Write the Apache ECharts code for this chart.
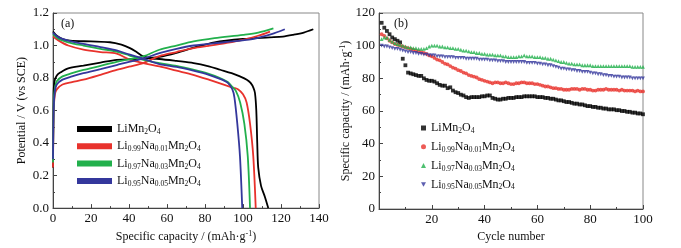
<!DOCTYPE html>
<html><head><meta charset="utf-8">
<script src="https://cdn.jsdelivr.net/npm/echarts@6/dist/echarts.min.js"></script>
<style>html,body{margin:0;padding:0;background:#fff}#c{width:681px;height:248px}</style>
</head><body><div id="c"></div>
<script>
// ---------- Panel (a): charge / discharge curves [capacity, potential] ----------
const blackCharge = [[0,0.25],[0.3,0.7],[0.8,0.78],[2,0.815],[4,0.835],[8,0.86],[16,0.876],[25,0.895],[33.5,0.912],[47.5,0.92],[56,0.93],[65,0.955],[75,0.99],[85,1.02],[100,1.04],[114,1.05],[121,1.055],[126.5,1.066],[132,1.08],[137,1.1]];
const blackDischarge = [[0,1.086],[2,1.06],[5,1.04],[9,1.03],[20,1.025],[30,1.02],[36,1.005],[40.5,0.984],[44,0.96],[47.5,0.933],[52,0.92],[56,0.917],[65,0.905],[74,0.892],[82,0.872],[88,0.851],[94,0.83],[98.4,0.81],[102,0.79],[104,0.77],[105.5,0.74],[106.3,0.708],[107,0.6],[107.5,0.4],[108,0.25],[109.5,0.137],[111.5,0.07],[113.3,0]];
const redCharge = [[0,0.25],[0.4,0.6],[1,0.7],[2,0.73],[5,0.76],[10,0.775],[16,0.79],[25,0.82],[33.5,0.85],[40,0.87],[47.5,0.892],[56,0.935],[65,0.96],[74,0.984],[82,0.998],[91,1.015],[100,1.035],[108,1.06],[114.2,1.086]];
const redDischarge = [[0,1.055],[3,1.03],[8,1.0],[16,0.975],[25,0.96],[33.5,0.95],[40,0.915],[47.5,0.892],[56,0.871],[65,0.845],[73.8,0.82],[82,0.79],[91.4,0.753],[95,0.74],[97.5,0.73],[100,0.7],[101.9,0.65],[103.7,0.52],[105.4,0.32],[106.7,0]];
const greenCharge = [[0,0.28],[0.4,0.65],[1,0.74],[2,0.78],[5,0.81],[10,0.83],[16,0.85],[25,0.875],[33.5,0.9],[40,0.915],[47.5,0.933],[56,0.974],[65,1.0],[74,1.025],[85,1.045],[100,1.066],[108,1.08],[116,1.106]];
const greenDischarge = [[0,1.07],[3,1.04],[8,1.02],[16,1.0],[25,0.98],[33.5,0.963],[40,0.94],[47.5,0.912],[56,0.892],[65,0.875],[73.8,0.851],[82,0.825],[87.9,0.8],[92,0.775],[94.1,0.749],[96.3,0.72],[98.5,0.65],[100.7,0.52],[102.5,0.32],[103.7,0]];
const blueCharge = [[0,0.3],[0.4,0.62],[1,0.72],[2,0.76],[5,0.79],[10,0.81],[16,0.83],[25,0.855],[33.5,0.88],[40,0.9],[47.5,0.92],[56,0.953],[65,0.98],[74,1.0],[90,1.02],[105,1.04],[115,1.07],[122,1.1]];
const blueDischarge = [[0,1.08],[3,1.05],[8,1.03],[16,1.01],[25,0.99],[33.5,0.97],[40,0.945],[47.5,0.92],[56,0.886],[65,0.868],[73.8,0.845],[82,0.82],[87.9,0.795],[92,0.77],[94.4,0.73],[95.5,0.68],[97,0.52],[98.4,0.32],[99.6,0]];

// ---------- Panel (b): capacity vs cycle number (cycles 1..100) ----------
const cycles = Array.from({length:100},(_,i)=>i+1);
const blackCycle = [114,111,109,107,105,104,103,102,92,88,83.5,83,82.5,82,81.5,81.5,80,79,78.5,78.5,78,77,76,75.5,75.5,74,74.5,72.5,71.5,71,70,69.5,68.5,68,68.5,68.5,68.5,68.5,69,69,69.5,69.5,68,67.5,67,67,67.5,67.5,68,68,68,68.5,68.5,68.5,69,69,69,69,69,68.5,68.5,68.5,68,68,67.5,67.5,67,66.5,66.5,66,65.5,65.5,65,64.5,64.5,64,64,63.5,63,63,62.5,62.5,62,62,61.5,61.5,61,61,61,60.5,60.5,60,60,59.5,59.5,59,59,58.5,58.5,58];
const redCycle = [107,106,104.5,103,102,101,100.5,100,99.5,99,98.5,98,97.5,97,96.5,96,95.5,95,94,93.5,92.5,91.5,91,90,89,88.5,87.5,86.5,86,85,84.5,83.5,83,82,81.5,81,80.5,79.5,79,78.5,78,77.5,77,77.5,77.5,77,77,77.5,77,76.5,76.5,77,77,77.5,77.5,77,77,77,76.5,76.5,76,75.5,75,75,74.5,74,74,73.5,73.5,73,73,73,73.5,73.5,73.5,73,73.5,73.5,73,73,72.5,72.5,73,73,73,73.5,73,73,73,73,72.5,73,72.5,72.5,72.5,72.5,72,72.5,72,72];
const greenCycle = [104,105,105,103.5,102.5,101.5,101,100.5,100,99.5,99,99,98.5,98.5,98,98,98,98.5,99.5,100,100,100,99.5,99.5,99,99,98.5,98.5,98,98,97.5,97,97,96.5,96,96,95.5,95.5,95,95,94.5,94.5,94.5,94,94,94,93.5,93.5,93,93,93,93,93.5,93.5,94,93.5,93.5,93.5,93,93,93,92.5,92.5,92,92,91.5,91,90.5,90,90,89.5,89,89,88.5,88.5,88.5,88,88,88,88,87.5,87.5,87.5,87.5,87.5,87.5,87.5,87.5,87.5,87.5,87.5,87.5,87.5,87.5,87.5,87,87,87,87,87];
const blueCycle = [100,99.5,99.5,99,98.5,98,98,97.5,97,96.5,96,96,95.5,95.5,95,95,94.5,94.5,94,94,94,93.5,93.5,93.5,93,93,93,93,92.5,92.5,92.5,92.5,92,92,92,92,92,91.5,91.5,91.5,91.5,91,91,91,90.5,90.5,90.5,90,90,90,90,90,90,90,90,89.5,89.5,89.5,89.5,89,89,88.5,88.5,88,88,87.5,87,86.5,86,86,85.5,85.5,85,85,84.5,84.5,84,84,84,83.5,83,83,82.5,82.5,82,82,81.5,81.5,81,81,81,80.5,80.5,80.5,80.5,80,80,80,80,80];

// ---------- Labels ----------
const names = ['LiMn2O4','Li0.99Na0.01Mn2O4','Li0.97Na0.03Mn2O4','Li0.95Na0.05Mn2O4'];
const richNames = {
  'LiMn2O4':'LiMn{s|2}O{s|4}',
  'Li0.99Na0.01Mn2O4':'Li{s|0.99}Na{s|0.01}Mn{s|2}O{s|4}',
  'Li0.97Na0.03Mn2O4':'Li{s|0.97}Na{s|0.03}Mn{s|2}O{s|4}',
  'Li0.95Na0.05Mn2O4':'Li{s|0.95}Na{s|0.05}Mn{s|2}O{s|4}'
};
const colors = ['#000000','#e8322c','#22b04c','#34379c'];
const ticksA_x = {min:0,max:140,interval:20};
const ticksA_y = {min:0,max:1.2,interval:0.2};
const ticksB_x = {min:0,max:100,interval:20};
const ticksB_y = {min:0,max:120,interval:20};

const FONT = 'Liberation Serif';
const rich = {
  s:{fontSize:7.5,fontFamily:FONT,color:'#111',padding:[6,0,0,0]},
  p:{fontSize:8,fontFamily:FONT,color:'#111',padding:[0,0,6,0]}
};
const txt = {fontFamily:FONT,fontSize:12,color:'#111'};
const lab = {fontFamily:FONT,fontSize:13,color:'#111'};

function axisCommon(extra){
  return Object.assign({
    axisLine:{show:true,onZero:false,lineStyle:{color:'#444',width:1}},
    axisTick:{show:true,inside:true,length:4,lineStyle:{color:'#444'}},
    minorTick:{show:true,splitNumber:2,length:2,lineStyle:{color:'#444'}},
    splitLine:{show:false},
    axisLabel:Object.assign({margin:4},lab),
    nameTextStyle:Object.assign({rich:rich},txt),
    nameLocation:'middle'
  },extra);
}

const chart = echarts.init(document.getElementById('c'),null,{renderer:'canvas'});
const lineSeries = [];
const pairs = [[blackCharge,blackDischarge],[redCharge,redDischarge],[greenCharge,greenDischarge],[blueCharge,blueDischarge]];
pairs.forEach((pr,i)=>{
  pr.forEach(d=>{
    lineSeries.push({type:'line',name:names[i],xAxisIndex:0,yAxisIndex:0,data:d,showSymbol:false,smooth:0.3,
      color:colors[i],lineStyle:{width:1.8,color:colors[i]}});
  });
});
const symbols = ['rect','circle','triangle','path://M0,0 L10,0 L5,9 Z'];
const cyc = [blackCycle,redCycle,greenCycle,blueCycle];
const scatterSeries = cyc.map((v,i)=>({
  type:'scatter',name:names[i]+' ',xAxisIndex:1,yAxisIndex:1,
  data:cycles.map((c,k)=>[c,v[k]]),symbol:symbols[i],symbolSize:3.8,
  itemStyle:{color:colors[i]}
}));

chart.setOption({
  animation:false,
  backgroundColor:'#fff',
  grid:[
    {left:53,top:13,width:266,height:196,show:true,borderColor:'#888',borderWidth:1},
    {left:379,top:13,width:264,height:196,show:true,borderColor:'#888',borderWidth:1}
  ],
  xAxis:[
    axisCommon(Object.assign({type:'value',gridIndex:0,name:'Specific capacity / (mAh·g{p|-1})',nameGap:16},ticksA_x)),
    axisCommon(Object.assign({type:'value',gridIndex:1,name:'Cycle number',nameGap:16,
      axisLabel:Object.assign({margin:4,formatter:v=>v===0?'':v},lab)},ticksB_x))
  ],
  yAxis:[
    axisCommon(Object.assign({type:'value',gridIndex:0,name:'Potential / V (vs SCE)',nameGap:25,
      axisLabel:Object.assign({margin:4,formatter:v=>v.toFixed(1)},lab)},ticksA_y)),
    axisCommon(Object.assign({type:'value',gridIndex:1,name:'Specific capacity / (mAh·g{p|-1})',nameGap:25},ticksB_y))
  ],
  legend:[
    {data:names.map(n=>({name:n,icon:'rect'})),orient:'vertical',left:72,top:118,itemWidth:35,itemHeight:6,itemGap:4.3,
      formatter:n=>richNames[n],textStyle:Object.assign({rich:rich},txt)},
    {data:names.map((n,i)=>({name:n+' ',icon:symbols[i]})),orient:'vertical',left:416,top:117,itemWidth:5,itemHeight:5,itemGap:5.8,
      formatter:n=>richNames[n.trim()],textStyle:Object.assign({rich:rich},txt)}
  ],
  graphic:[
    {type:'text',left:61,top:18,style:{text:'(a)',font:'12px "Liberation Serif"',fill:'#111'}},
    {type:'text',left:394,top:18,style:{text:'(b)',font:'12px "Liberation Serif"',fill:'#111'}}
  ],
  series:lineSeries.concat(scatterSeries)
});
</script>
</body></html>
